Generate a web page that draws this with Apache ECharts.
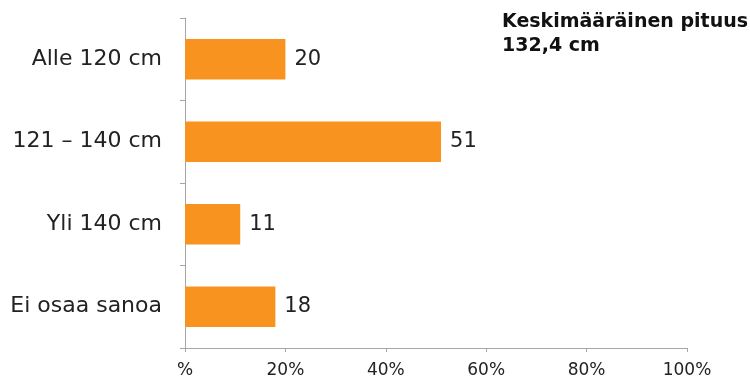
<!DOCTYPE html>
<html>
<head>
<meta charset="utf-8">
<script src="https://cdn.jsdelivr.net/npm/echarts@6/dist/echarts.min.js"></script>
<style>
  html, body { margin: 0; padding: 0; background: #fff; }
  #chart { width: 750px; height: 379px; }
</style>
</head>
<body>
<div id="chart"></div>
<script>
// Height groups and share of respondents (%)
const categories = ['Alle 120 cm', '121 – 140 cm', 'Yli 140 cm', 'Ei osaa sanoa'];
const shares = [20, 51, 11, 18];
const xTickLabels = ['%', '20%', '40%', '60%', '80%', '100%'];
const noteLines = ['Keskimääräinen pituus', '132,4 cm'];

const font = 'Verdana, "DejaVu Sans", sans-serif';
const chart = echarts.init(document.getElementById('chart'));

chart.setOption({
  animation: false,
  backgroundColor: '#ffffff',
  grid: { left: 185, right: 63, top: 18, bottom: 29, containLabel: false },
  title: {
    text: noteLines.join('\n'),
    left: 497,
    top: 5,
    textStyle: { fontFamily: font, fontWeight: 'bold', fontSize: 19, color: '#111', lineHeight: 24 }
  },
  xAxis: {
    type: 'value',
    min: 0,
    max: 100,
    interval: 20,
    axisLine: { show: true, lineStyle: { color: '#a6a6a6', width: 1 } },
    axisTick: { show: true, length: 4, lineStyle: { color: '#a6a6a6' } },
    splitLine: { show: false },
    axisLabel: {
      fontFamily: font,
      fontSize: 17,
      color: '#222',
      margin: 14,
      formatter: (v) => xTickLabels[Math.round(v / 20)]
    }
  },
  yAxis: {
    type: 'category',
    data: categories,
    inverse: true,
    axisLine: { show: true, lineStyle: { color: '#a6a6a6', width: 1 } },
    axisTick: { show: true, length: 5, lineStyle: { color: '#a6a6a6' } },
    axisLabel: { fontFamily: font, fontSize: 22, color: '#222', margin: 23 }
  },
  series: [{
    type: 'bar',
    data: shares,
    barWidth: '49%',
    itemStyle: { color: '#f7931e' },
    label: {
      show: true,
      position: 'right',
      distance: 9,
      fontFamily: font,
      fontSize: 21,
      color: '#222'
    }
  }]
});
</script>
</body>
</html>
